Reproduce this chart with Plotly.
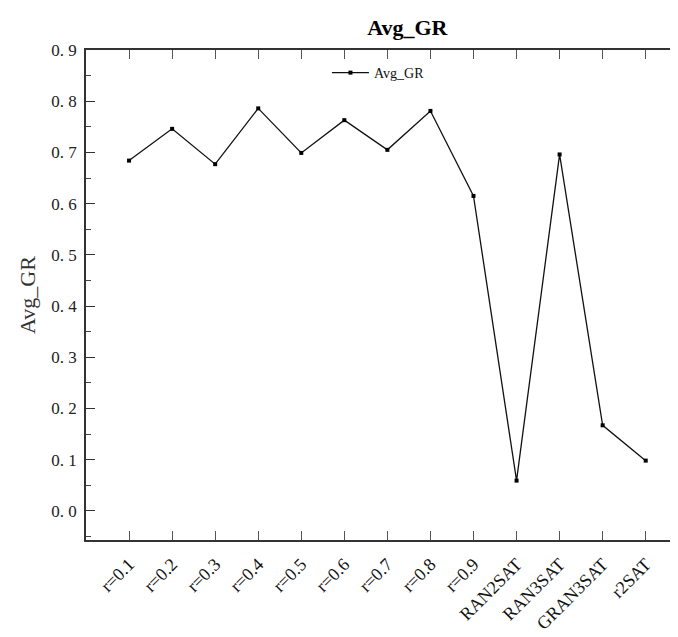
import plotly.graph_objects as go

categories = ["r=0.1", "r=0.2", "r=0.3", "r=0.4", "r=0.5", "r=0.6", "r=0.7",
              "r=0.8", "r=0.9", "RAN2SAT", "RAN3SAT", "GRAN3SAT", "r2SAT"]
avg_gr = [0.684, 0.746, 0.677, 0.786, 0.699, 0.763, 0.705, 0.781, 0.615,
          0.059, 0.696, 0.167, 0.098]
y_ticks = [0.0, 0.1, 0.2, 0.3, 0.4, 0.5, 0.6, 0.7, 0.8, 0.9]
y_ticktext = ["0.\u00a00", "0.\u00a01", "0.\u00a02", "0.\u00a03", "0.\u00a04",
              "0.\u00a05", "0.\u00a06", "0.\u00a07", "0.\u00a08", "0.\u00a09"]

SERIF = "Liberation Serif, Times New Roman, serif"

fig = go.Figure()
fig.add_trace(go.Scatter(
    x=list(range(len(categories))), y=avg_gr, name="Avg_GR",
    mode="lines+markers",
    line=dict(color="#111111", width=1.3),
    marker=dict(symbol="square", size=4, color="#000000"),
))

# the page body has an 8px default margin, so the figure is sized to fit the window
fig.update_layout(
    width=670, height=629,
    margin=dict(l=78, r=0, t=42, b=97),
    paper_bgcolor="white", plot_bgcolor="white",
    title=dict(text="<b>Avg_GR</b>", x=0.596, xanchor="center", y=0.970, yanchor="middle",
               font=dict(family=SERIF, size=22, color="#000")),
    showlegend=True,
    legend=dict(x=0.407, y=0.953, xanchor="left", yanchor="middle",
                font=dict(family=SERIF, size=14, color="#111"),
                bgcolor="rgba(0,0,0,0)", itemwidth=37),
    xaxis=dict(
        range=[-1, 12.75],
        tickmode="array", tickvals=list(range(len(categories))), ticktext=categories,
        tickangle=-45, ticks="inside", ticklen=9, tickwidth=1.3, tickcolor="#555",
        showline=True, linecolor="#333", linewidth=1.5, mirror="ticks",
        showgrid=False, zeroline=False, automargin=False,
        ticklabelstandoff=5,
        tickfont=dict(family=SERIF, size=18, color="#111"),
    ),
    yaxis=dict(
        range=[-0.057, 0.9],
        tickmode="array", tickvals=y_ticks, ticktext=y_ticktext,
        ticks="inside", ticklen=9, tickwidth=1.3, tickcolor="#333",
        minor=dict(ticks="inside", ticklen=5, dtick=0.05, tick0=0, tickcolor="#444", tickwidth=1),
        showline=True, linecolor="#333", linewidth=1.5, mirror=False,
        showgrid=False, zeroline=False, automargin=False,
        ticklabelstandoff=4,
        tickfont=dict(family=SERIF, size=17, color="#222"),
        title=dict(text="Avg_GR", font=dict(family=SERIF, size=22, color="#333"), standoff=10),
    ),
)

fig.write_html("out.html")
